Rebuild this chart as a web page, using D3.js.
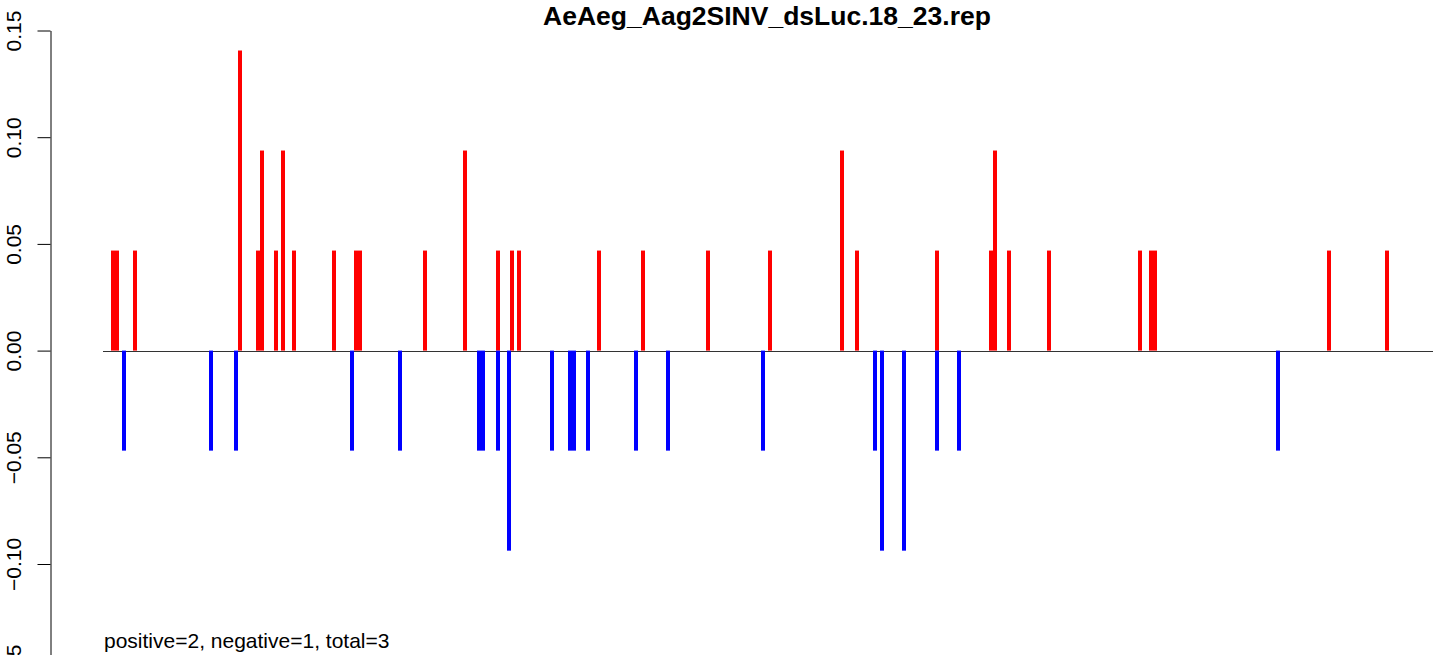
<!DOCTYPE html>
<html>
<head>
<meta charset="utf-8">
<script src="https://cdn.jsdelivr.net/npm/d3@7"></script>
<style>
  html, body { margin: 0; padding: 0; background: #fff; }
  svg { display: block; font-family: "Liberation Sans", Arial, Helvetica, sans-serif; }
</style>
</head>
<body>
<svg id="chart" width="1433" height="655"></svg>
<script>
const title = "AeAeg_Aag2SINV_dsLuc.18_23.rep";
const footnote = "positive=2, negative=1, total=3";

const yTicks = [-0.15, -0.10, -0.05, 0.00, 0.05, 0.10, 0.15];
const xDomain = [0, 1330];

const posPositions = [10, 14, 32, 137, 155, 159, 173, 180, 191, 231, 253, 257, 322, 362, 395, 409, 416, 496, 540, 605, 667, 739, 754, 834, 888, 892, 906, 946, 1037, 1048, 1052, 1226, 1284];
const posValues = [0.046875, 0.046875, 0.046875, 0.140625, 0.046875, 0.09375, 0.046875, 0.09375, 0.046875, 0.046875, 0.046875, 0.046875, 0.046875, 0.09375, 0.046875, 0.046875, 0.046875, 0.046875, 0.046875, 0.046875, 0.046875, 0.09375, 0.046875, 0.046875, 0.046875, 0.09375, 0.046875, 0.046875, 0.046875, 0.046875, 0.046875, 0.046875, 0.046875];

const negPositions = [21, 108, 133, 249, 297, 376, 380, 395, 406, 449, 467, 471, 485, 533, 565, 660, 772, 779, 801, 834, 856, 1175];
const negValues = [-0.046875, -0.046875, -0.046875, -0.046875, -0.046875, -0.046875, -0.046875, -0.046875, -0.09375, -0.046875, -0.046875, -0.046875, -0.046875, -0.046875, -0.046875, -0.046875, -0.046875, -0.09375, -0.09375, -0.046875, -0.046875, -0.046875];

const svg = d3.select("#chart");

const x = d3.scaleLinear().domain(xDomain).range([103, 1433]);
const y = d3.scaleLinear().domain([-0.15, 0.15]).range([670.7, 30.5]);
const barW = 4;

// zero line
svg.append("line")
  .attr("x1", x(xDomain[0])).attr("x2", x(xDomain[1]))
  .attr("y1", Math.round(y(0)) + 0.5).attr("y2", Math.round(y(0)) + 0.5)
  .attr("stroke", "#333").attr("stroke-width", 1);

const pos = posPositions.map((p, i) => ({p, v: posValues[i]}));
const neg = negPositions.map((p, i) => ({p, v: negValues[i]}));

svg.append("g").selectAll("rect").data(pos).join("rect")
  .attr("x", d => x(d.p) - barW / 2)
  .attr("width", barW)
  .attr("y", d => y(d.v))
  .attr("height", d => y(0) - y(d.v))
  .attr("fill", "#ff0000");

svg.append("g").selectAll("rect").data(neg).join("rect")
  .attr("x", d => x(d.p) - barW / 2)
  .attr("width", barW)
  .attr("y", d => y(0))
  .attr("height", d => y(d.v) - y(0))
  .attr("fill", "#0000ff");

// y axis
const yAxis = d3.axisLeft(y)
  .tickValues(yTicks)
  .tickSizeInner(13)
  .tickSizeOuter(0)
  .tickFormat(d3.format(".2f"));

const gy = svg.append("g")
  .attr("transform", "translate(50.5,0)")
  .call(yAxis);
gy.select(".domain").attr("stroke", "#000").attr("stroke-width", 1);
gy.selectAll(".tick line").attr("stroke", "#000").attr("stroke-width", 1);
gy.selectAll(".tick text")
  .attr("transform", "rotate(-90)")
  .attr("x", 0)
  .attr("y", -29.5)
  .attr("dy", 0)
  .attr("text-anchor", "middle")
  .attr("fill", "#000")
  .style("font-size", "21px")
  .style("font-family", "'Liberation Sans', Arial, Helvetica, sans-serif");

// title
svg.append("text")
  .attr("x", 767).attr("y", 25)
  .attr("text-anchor", "middle")
  .style("font-size", "26.5px")
  .style("font-weight", "bold")
  .attr("fill", "#000")
  .text(title);

// footnote
svg.append("text")
  .attr("x", 104).attr("y", 648)
  .style("font-size", "21px")
  .attr("fill", "#000")
  .text(footnote);
</script>
</body>
</html>
